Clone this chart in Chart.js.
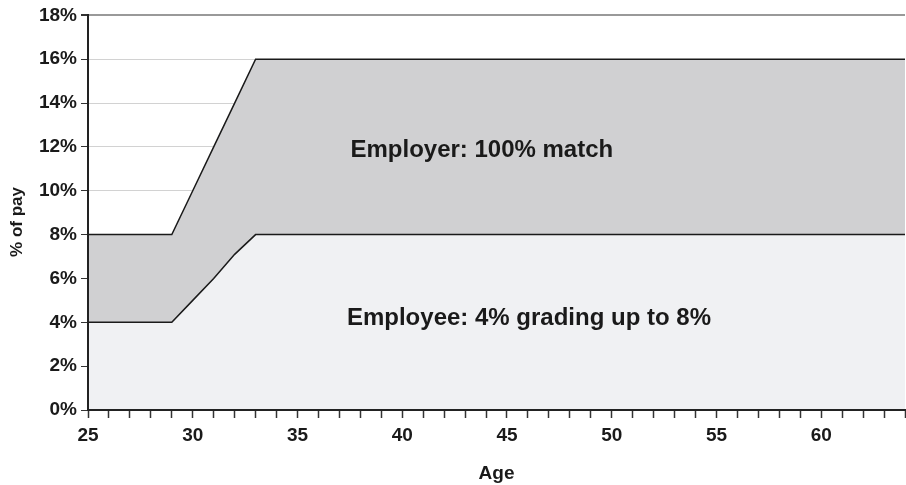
<!DOCTYPE html>
<html>
<head>
<meta charset="utf-8">
<script src="https://cdn.jsdelivr.net/npm/chart.js@4"></script>
<style>
  body { margin: 0; background: #fff; }
  canvas { display: block; }
</style>
</head>
<body>
<canvas id="payChart" width="906" height="485"></canvas>
<script>
var ages = [25, 29, 30, 31, 32, 33, 64];
var employeePct = [4, 4, 5, 6, 7.1, 8, 8];
var employerPct = [4, 4, 5, 6, 6.9, 8, 8];
var yTicks = [0, 2, 4, 6, 8, 10, 12, 14, 16, 18];

var FONT = 'Liberation Sans, Arial, sans-serif';

function pts(vals) {
    return ages.map(function (a, i) { return { x: a, y: vals[i] }; });
}

// area captions, axis lines on top of the fills, and the rotated y title
var areaLabels = {
    id: 'areaLabels',
    afterDatasetsDraw: function (chart) {
        var c = chart.ctx, xs = chart.scales.x, ys = chart.scales.y;
        var a = chart.chartArea;
        c.save();
        c.strokeStyle = '#222';
        c.lineWidth = 2;
        c.beginPath();
        c.moveTo(a.left, a.top);
        c.lineTo(a.left, a.bottom);
        c.lineTo(a.right, a.bottom);
        c.stroke();

        c.fillStyle = '#1a1a1a';
        c.font = 'bold 24px ' + FONT;
        c.textAlign = 'center';
        c.textBaseline = 'middle';
        c.fillText('Employer: 100% match', xs.getPixelForValue(43.8), ys.getPixelForValue(11.85));
        c.fillText('Employee: 4% grading up to 8%', xs.getPixelForValue(46.05), ys.getPixelForValue(4.2));

        c.translate(17, 222);
        c.rotate(-Math.PI / 2);
        c.font = 'bold 17px ' + FONT;
        c.fillText('% of pay', 0, 0);
        c.restore();
    }
};

var ctx = document.getElementById('payChart').getContext('2d');
var payChart = new Chart(ctx, {
    type: 'line',
    data: {
        datasets: [{
            label: 'Employee',
            data: pts(employeePct),
            borderColor: '#1a1a1a',
            borderWidth: 1.5,
            backgroundColor: '#f0f1f3',
            fill: 'origin',
            pointRadius: 0,
            tension: 0
        }, {
            label: 'Employer',
            data: pts(employerPct),
            borderColor: '#1a1a1a',
            borderWidth: 1.5,
            backgroundColor: '#d0d0d2',
            fill: '-1',
            pointRadius: 0,
            tension: 0
        }]
    },
    options: {
        responsive: false,
        animation: false,
        layout: { padding: { top: 15, right: 1, left: 0, bottom: 0 } },
        plugins: {
            legend: { display: false },
            tooltip: { enabled: false }
        },
        scales: {
            x: {
                type: 'linear',
                min: 25,
                max: 64,
                stacked: true,
                afterFit: function (s) {
                    s.height = 75;
                    s.paddingLeft = 0;
                    s.paddingRight = 0;
                },
                ticks: {
                    stepSize: 1,
                    autoSkip: false,
                    maxRotation: 0,
                    color: '#1a1a1a',
                    font: { family: FONT, size: 19, weight: 'bold' },
                    padding: 6,
                    callback: function (v) { return v % 5 === 0 ? String(v) : ''; }
                },
                grid: {
                    drawOnChartArea: false,
                    tickLength: 8,
                    tickColor: '#333',
                    tickWidth: 1.5
                },
                border: { color: '#222', width: 2 },
                title: {
                    display: true,
                    text: 'Age',
                    color: '#1a1a1a',
                    font: { family: FONT, size: 19, weight: 'bold' },
                    padding: { top: 8, bottom: 0 }
                }
            },
            y: {
                min: 0,
                max: 18,
                stacked: true,
                afterFit: function (s) { s.width = 88; },
                afterBuildTicks: function (s) {
                    s.ticks = yTicks.map(function (v) { return { value: v }; });
                },
                ticks: {
                    color: '#1a1a1a',
                    font: { family: FONT, size: 19, weight: 'bold' },
                    padding: 4,
                    callback: function (v) { return v + '%'; }
                },
                grid: {
                    color: function (c) { return c.tick && c.tick.value === 18 ? '#999' : '#d2d2d2'; },
                    lineWidth: function (c) { return c.tick && c.tick.value === 18 ? 2 : 1; },
                    tickLength: 7,
                    tickColor: '#333'
                },
                border: { color: '#222', width: 2 }
            }
        }
    },
    plugins: [areaLabels]
});
</script>
</body>
</html>
